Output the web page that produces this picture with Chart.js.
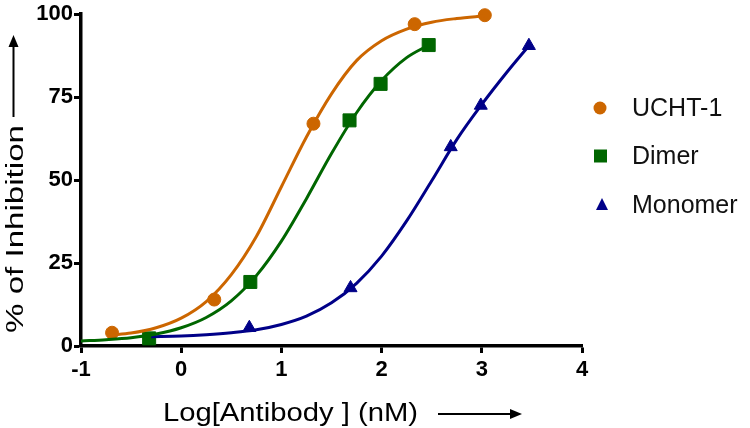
<!DOCTYPE html>
<html>
<head>
<meta charset="utf-8">
<script src="https://cdn.jsdelivr.net/npm/chart.js@4/dist/chart.umd.min.js"></script>
<style>
  html, body { margin: 0; padding: 0; background: #fff; }
  #wrap { width: 750px; height: 428px; }
</style>
</head>
<body>
<div id="wrap"><canvas id="myChart" width="750" height="428"></canvas></div>
<script>
// measured points
const seriesNames = ["UCHT-1", "Dimer", "Monomer"];
const uchtX = [-0.69, 0.33, 1.32, 2.33, 3.03];
const uchtY = [4, 14, 67, 97, 99.7];
const dimerX = [-0.32, 0.69, 1.68, 1.99, 2.47];
const dimerY = [2.3, 19.3, 68, 79, 90.7];
const monoX = [0.68, 1.69, 2.69, 2.99, 3.47];
const monoY = [5.5, 17.5, 60, 72.5, 90.5];

// fitted curves
const uchtCurveX = [-0.7, -0.5, -0.25, 0, 0.25, 0.5, 0.75, 1, 1.25, 1.5, 1.75, 2, 2.25, 2.5, 2.75, 3.03];
const uchtCurveY = [3.3, 3.9, 5.5, 8.4, 13.4, 21.5, 33, 48, 63, 76, 86, 92, 95.5, 97.6, 98.7, 99.5];
const dimerCurveX = [-1, -0.75, -0.5, -0.25, 0, 0.25, 0.5, 0.75, 1, 1.25, 1.5, 1.75, 2, 2.25, 2.47];
const dimerCurveY = [1.5, 1.9, 2.5, 3.6, 5.5, 8.6, 13.6, 21.2, 31.6, 44.4, 58, 70.3, 80, 86.9, 90.7];
const monoCurveX = [-0.3, 0, 0.25, 0.5, 0.75, 1, 1.25, 1.5, 1.75, 2, 2.25, 2.5, 2.75, 3, 3.25, 3.47];
const monoCurveY = [2.8, 3.0, 3.4, 4.0, 4.9, 6.5, 9.0, 13.0, 18.9, 27.1, 37.7, 49.8, 62.2, 72.8, 82.5, 90.5];

const xTicks = [-1, 0, 1, 2, 3, 4];
const yTicks = [0, 25, 50, 75, 100];

const colors = ["#cc6600", "#006600", "#000088"];
const markers = ["circle", "rect", "triangle"];
const markerSizes = [6.5, 9.2, 7.5];

const xTitle = "Log[Antibody ] (nM)";
const yTitle = "% of Inhibition";

const FONT = "'Liberation Sans', Arial, sans-serif";

function pts(xs, ys) {
    return xs.map((x, i) => ({ x: x, y: ys[i] }));
}

function curveSet(xs, ys, i) {
    return {
        data: pts(xs, ys),
        showLine: true,
        borderColor: colors[i],
        borderWidth: 3,
        pointRadius: 0,
        cubicInterpolationMode: "monotone",
        clip: false
    };
}

function pointSet(xs, ys, i) {
    return {
        label: seriesNames[i],
        data: pts(xs, ys),
        showLine: false,
        pointStyle: markers[i],
        pointRadius: markerSizes[i],
        pointHoverRadius: markerSizes[i],
        backgroundColor: colors[i],
        borderColor: colors[i],
        borderWidth: 1,
        clip: false
    };
}

function arrowHead(ctx, x, y, dx, dy) {
    // tip at (x,y), pointing along (dx,dy)
    ctx.beginPath();
    ctx.moveTo(x, y);
    ctx.lineTo(x - dx * 12 - dy * 5, y - dy * 12 - dx * 5);
    ctx.lineTo(x - dx * 12 + dy * 5, y - dy * 12 + dx * 5);
    ctx.closePath();
    ctx.fill();
}

// axis titles (the original text is stretched), arrows and legend
const extras = {
    id: "extras",
    afterDraw(chart) {
        const { ctx, chartArea: a } = chart;
        ctx.save();
        ctx.fillStyle = "#000";
        ctx.strokeStyle = "#000";
        ctx.lineWidth = 2;
        ctx.textAlign = "left";
        ctx.textBaseline = "alphabetic";

        // x title + arrow
        ctx.font = "26px " + FONT;
        let w = ctx.measureText(xTitle).width;
        let tx = a.left + 82, ty = a.bottom + 75;
        ctx.save();
        ctx.translate(tx, ty);
        ctx.scale(255 / w, 1);
        ctx.fillText(xTitle, 0, 0);
        ctx.restore();
        let ay = ty - 7;
        let x0 = tx + 275, x1 = x0 + 84;
        ctx.beginPath();
        ctx.moveTo(x0, ay);
        ctx.lineTo(x1 - 8, ay);
        ctx.stroke();
        arrowHead(ctx, x1, ay, 1, 0);

        // y title + arrow
        ctx.font = "23px " + FONT;
        w = ctx.measureText(yTitle).width;
        let yx = 23, yy = a.bottom - 13;
        ctx.save();
        ctx.translate(yx, yy);
        ctx.rotate(-Math.PI / 2);
        ctx.scale(208 / w, 1);
        ctx.fillText(yTitle, 0, 0);
        ctx.restore();
        let ax = 13.5;
        let y0 = yy - 216, y1 = y0 - 82;
        ctx.beginPath();
        ctx.moveTo(ax, y0);
        ctx.lineTo(ax, y1 + 8);
        ctx.stroke();
        arrowHead(ctx, ax, y1, 0, -1);

        // legend
        const legendY = [108, 156, 205];
        ctx.font = "25px " + FONT;
        ctx.textBaseline = "middle";
        seriesNames.forEach((name, i) => {
            const y = legendY[i];
            ctx.fillStyle = colors[i];
            ctx.beginPath();
            if (markers[i] === "circle") {
                ctx.arc(600, y, 6.5, 0, Math.PI * 2);
            } else if (markers[i] === "rect") {
                ctx.rect(594, y - 6.5, 13, 13);
            } else {
                ctx.moveTo(602, y - 7);
                ctx.lineTo(608, y + 5);
                ctx.lineTo(596, y + 5);
                ctx.closePath();
            }
            ctx.fill();
            ctx.fillStyle = "#111";
            ctx.fillText(name, 632, y + 1);
        });
        ctx.restore();
    }
};

const tickFont = { family: FONT, size: 22, weight: "bold" };

new Chart("myChart", {
    type: "scatter",
    data: {
        datasets: [
            curveSet(uchtCurveX, uchtCurveY, 0),
            curveSet(dimerCurveX, dimerCurveY, 1),
            curveSet(monoCurveX, monoCurveY, 2),
            pointSet(uchtX, uchtY, 0),
            pointSet(dimerX, dimerY, 1),
            pointSet(monoX, monoY, 2)
        ]
    },
    options: {
        responsive: false,
        animation: false,
        layout: { padding: { top: 13, right: 168, bottom: 0, left: 0 } },
        plugins: {
            legend: { display: false },
            tooltip: { enabled: false }
        },
        scales: {
            x: {
                type: "linear",
                min: xTicks[0],
                max: xTicks[xTicks.length - 1],
                afterBuildTicks: s => { s.ticks = xTicks.map(v => ({ value: v })); },
                afterFit: s => { s.height = 82; },
                border: { color: "#000", width: 3.5 },
                grid: { drawOnChartArea: false, drawTicks: true, tickLength: 7, tickWidth: 3, tickColor: "#000" },
                ticks: { color: "#000", font: tickFont, padding: 4 }
            },
            y: {
                min: yTicks[0],
                max: yTicks[yTicks.length - 1],
                afterBuildTicks: s => { s.ticks = yTicks.map(v => ({ value: v })); },
                afterFit: s => { s.width = 81; },
                border: { color: "#000", width: 3.5 },
                grid: { drawOnChartArea: false, drawTicks: true, tickLength: 7, tickWidth: 3, tickColor: "#000" },
                ticks: { color: "#000", font: tickFont, padding: 1 }
            }
        }
    },
    plugins: [extras]
});
</script>
</body>
</html>
